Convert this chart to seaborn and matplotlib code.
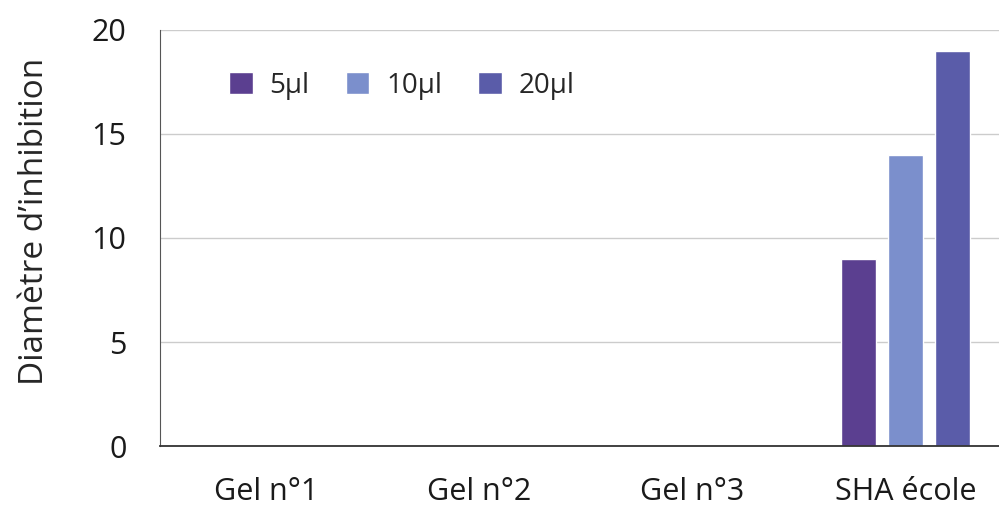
import pandas as pd
import seaborn as sns
import matplotlib.pyplot as plt

categories = ["Gel n°1", "Gel n°2", "Gel n°3", "SHA école"]
doses = ["5µl", "10µl", "20µl"]
values_5 = [0, 0, 0, 9]
values_10 = [0, 0, 0, 14]
values_20 = [0, 0, 0, 19]
colors = ["#5b3f90", "#7b8fcc", "#5a5ca9"]

rows = []
for dose, vals in zip(doses, [values_5, values_10, values_20]):
    for cat, v in zip(categories, vals):
        rows.append({"cat": cat, "dose": dose, "val": v})
df = pd.DataFrame(rows)

sns.set_style("white")
plt.rcParams["font.family"] = ["Open Sans", "DejaVu Sans"]

fig = plt.figure(figsize=(9.99, 5.08), dpi=100)
ax = fig.add_axes([0.16, 0.122, 0.853, 0.819])

sns.barplot(data=df, x="cat", y="val", hue="dose", hue_order=doses,
            palette=colors, width=0.66, gap=0.25, ax=ax, saturation=1)

ax.set_ylim(0, 20)
ax.set_yticks([0, 5, 10, 15, 20])
ax.yaxis.grid(True, color="#cccccc", linewidth=1)
ax.set_axisbelow(True)
ax.set_xlabel("")
ax.set_ylabel("Diamètre d’inhibition", fontsize=24, labelpad=29)
ax.yaxis.label.set_y(0.54)
ax.tick_params(axis="both", labelsize=22, length=0, colors="#1a1a1a")
ax.tick_params(axis="x", pad=22)
ax.tick_params(axis="y", pad=24)

for side in ["top", "right"]:
    ax.spines[side].set_visible(False)
ax.spines["left"].set_color("#555555")
ax.spines["bottom"].set_color("#333333")
ax.spines["bottom"].set_linewidth(1.3)

ax.legend(loc="upper left", bbox_to_anchor=(0.052, 0.96), ncol=3, frameon=False,
          fontsize=20, handlelength=0.85, handleheight=0.85, columnspacing=1.3,
          handletextpad=0.6)

fig.savefig("out.png", dpi=100)
